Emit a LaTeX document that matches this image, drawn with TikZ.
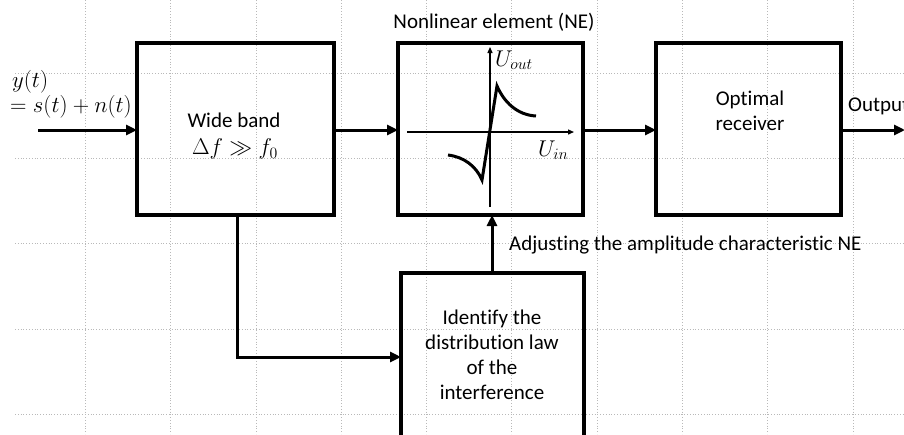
\documentclass[tikz,border=0pt]{standalone}
\usepackage{graphicx}
\usepackage{fontspec}
\setmainfont[Ligatures={NoCommon}]{Carlito}
\usepackage{amsmath,amssymb}
\usetikzlibrary{arrows.meta}
\newcommand{\myscaledmath}[1]{\scalebox{1.1}{$#1$}}
\begin{document}
\begin{tikzpicture}[x=1pt,y=-1pt,
  blk/.style={draw,line width=3.2pt},
  conn/.style={line width=3pt,-{Triangle[length=11pt,width=10pt]}},
  axis/.style={line width=1.3pt,-{Triangle[length=6pt,width=5pt]}},
  gridl/.style={gray!55,line width=0.8pt,dotted},
  txt/.style={font=\fontsize{21}{25}\selectfont,inner sep=0pt,align=center},
  mth/.style={font=\fontsize{22}{26}\selectfont,inner sep=0pt}]
\useasboundingbox (0,0) rectangle (904,434);
\clip (0,0) rectangle (904,434);
% grid
\foreach \k in {1,...,10} \draw[gridl] (85.3*\k,0) -- (85.3*\k,434);
\foreach \k in {0,...,4} \draw[gridl] (15,73+85.3*\k) -- (904,73+85.3*\k);
% boxes
\draw[blk] (137,43) rectangle (334,215);
\node[txt] (wbt) at (234,120) {Wide band};
\node[mth] (wbm) at (235,149) {\myscaledmath{\Delta f \gg f_0}};
\draw[blk] (398,43) rectangle (583,215);
\draw[blk] (656,43) rectangle (841,215);
\node[txt] (ort) at (750,111) {Optimal\\receiver};
\draw[blk] (401,273) rectangle (584,440);
\node[txt] (idt) at (492,355) {Identify the\\distribution law\\of the\\interference};
\node[txt] (net) at (494,22) {Nonlinear element (NE)};
\node[txt,anchor=west] (outt) at (848,106) {Output};
\node[txt,anchor=west] (adj) at (509,245) {Adjusting the amplitude characteristic NE};
% input
\node[mth,anchor=west] (y1) at (12,82) {\myscaledmath{y(t)}};
\node[mth,anchor=west] (y2) at (10,107) {\myscaledmath{= s(t) + n(t)}};
\coordinate (in) at (38,130);
\coordinate (wbL) at (137,130);
\coordinate (wbR) at (334,130);
\coordinate (neL) at (398,130);
\coordinate (neR) at (583,130);
\coordinate (orL) at (656,130);
\coordinate (orR) at (841,130);
\coordinate (outE) at (905,130);
\coordinate (wbB) at (237,215);
\coordinate (bend) at (237,357);
\coordinate (idL) at (401,357);
\coordinate (idT) at (492,273);
\coordinate (neB) at (492,215);
\draw[conn] (in) -- (wbL);
\draw[conn] (wbR) -- (neL);
\draw[conn] (neR) -- (orL);
\draw[conn] (orR) -- (outE);
\draw[conn] (wbB) -- (bend) -- (idL);
\draw[conn] (idT) -- (neB);
% NE characteristic
\coordinate (ax0) at (490,207);
\coordinate (ax1) at (490,47);
\coordinate (ay0) at (407,132);
\coordinate (ay1) at (574,132);
\draw[axis] (ax0) -- (ax1);
\draw[axis] (ay0) -- (ay1);
\node[mth,anchor=west] (uo) at (495,60) {\myscaledmath{U_{out}}};
\node[mth,anchor=west] (ui) at (538,150) {\myscaledmath{U_{in}}};
\draw[line width=3pt,line join=miter] (448,155) .. controls (464,157) and (476,166) .. (482,180) -- (497,86) .. controls (504,102) and (517,115) .. (536,116);
\end{tikzpicture}
\end{document}
